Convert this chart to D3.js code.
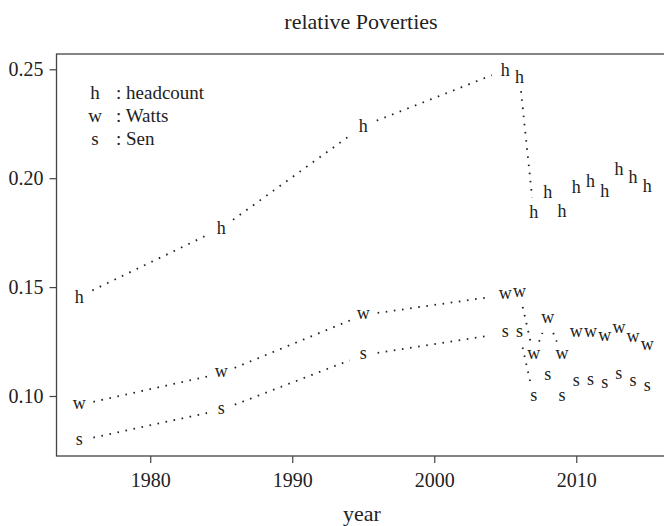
<!DOCTYPE html>
<html>
<head>
<meta charset="utf-8">
<script src="https://cdn.jsdelivr.net/npm/d3@7"></script>
<style>
  body { margin: 0; background: #fff; }
  text { font-family: "Liberation Serif", "Times New Roman", serif; fill: #222; }
</style>
</head>
<body>
<div id="chart"></div>
<script>
var years = [1975, 1985, 1995, 2005, 2006, 2007, 2008, 2009, 2010, 2011, 2012, 2013, 2014, 2015];
var headcount = [0.1456, 0.1770, 0.2240, 0.2497, 0.2466, 0.1846, 0.1938, 0.1851, 0.1961, 0.1987, 0.1943, 0.2045, 0.2007, 0.1964];
var watts = [0.0959, 0.1104, 0.1372, 0.1464, 0.1474, 0.1188, 0.1352, 0.1188, 0.1288, 0.1288, 0.1272, 0.1306, 0.1265, 0.1230];
var sen = [0.0795, 0.0936, 0.1188, 0.1288, 0.1288, 0.0994, 0.1092, 0.0994, 0.1066, 0.1070, 0.1055, 0.1096, 0.1066, 0.1043];
var yTicks = [0.10, 0.15, 0.20, 0.25];
var xTicks = [1980, 1990, 2000, 2010];
var series = [
  { sym: "h", name: ": headcount", values: headcount },
  { sym: "w", name: ": Watts", values: watts },
  { sym: "s", name: ": Sen", values: sen }
];

var width = 664, height = 526,
  plot = { left: 56.5, right: 670, top: 54, bottom: 456 },
  gap = 14.5;

var svg = d3.select("#chart").append("svg")
  .attr("width", width)
  .attr("height", height);

var x = d3.scaleLinear().domain([1973.4, 2016.6]).range([plot.left, plot.right]),
  y = d3.scaleLinear().domain([0.07245, 0.25703]).range([plot.bottom, plot.top]);

// box
svg.append("rect")
  .attr("x", plot.left).attr("y", plot.top)
  .attr("width", plot.right - plot.left).attr("height", plot.bottom - plot.top)
  .attr("fill", "none").attr("stroke", "#444").attr("stroke-width", 1.3);

var yAxis = svg.append("g")
  .attr("transform", "translate(" + plot.left + ",0)")
  .call(d3.axisLeft(y).tickValues(yTicks).tickFormat(d3.format(".2f")).tickSize(7).tickPadding(6));
var xAxis = svg.append("g")
  .attr("transform", "translate(0," + plot.bottom + ")")
  .call(d3.axisBottom(x).tickValues(xTicks).tickFormat(d3.format("d")).tickSize(7).tickPadding(10));
[yAxis, xAxis].forEach(function (a) {
  a.select(".domain").remove();
  a.selectAll("line").attr("stroke", "#444").attr("stroke-width", 1.2);
  a.selectAll("text").style("font-family", "Liberation Serif, serif").style("font-size", "20px").attr("fill", "#222");
});

// title and axis label
svg.append("text").attr("x", 361).attr("y", 29)
  .attr("text-anchor", "middle").style("font-size", "22px").text("relative Poverties");
svg.append("text").attr("x", 362).attr("y", 521)
  .attr("text-anchor", "middle").style("font-size", "22px").text("year");

// type = "b": dotted segments with a gap round each letter
series.forEach(function (s) {
  var g = svg.append("g");
  for (var i = 0; i < years.length - 1; i++) {
    var x1 = x(years[i]), y1 = y(s.values[i]),
      x2 = x(years[i + 1]), y2 = y(s.values[i + 1]),
      len = Math.sqrt((x2 - x1) * (x2 - x1) + (y2 - y1) * (y2 - y1));
    if (len <= 2 * gap) continue;
    var ux = (x2 - x1) / len, uy = (y2 - y1) / len;
    g.append("line")
      .attr("x1", x1 + ux * gap).attr("y1", y1 + uy * gap)
      .attr("x2", x2 - ux * gap).attr("y2", y2 - uy * gap)
      .attr("stroke", "#222").attr("stroke-width", 1.8)
      .attr("stroke-dasharray", "1.6,6.6");
  }
  g.selectAll("text.pt")
    .data(s.values)
    .enter().append("text")
    .attr("class", "pt")
    .attr("x", function (d, i) { return x(years[i]); })
    .attr("y", function (d) { return y(d); })
    .attr("dy", s.sym == "h" ? "0.34em" : "0.23em")
    .attr("text-anchor", "middle")
    .style("font-size", "18px")
    .attr("fill", "#333")
    .text(s.sym);
});

// legend
var legend = svg.append("g");
series.forEach(function (s, i) {
  legend.append("text").attr("x", 95).attr("y", 98.5 + i * 23)
    .attr("text-anchor", "middle").style("font-size", "19px").text(s.sym);
  legend.append("text").attr("x", 116).attr("y", 98.5 + i * 23)
    .style("font-size", "19px").text(s.name);
});
</script>
</body>
</html>
